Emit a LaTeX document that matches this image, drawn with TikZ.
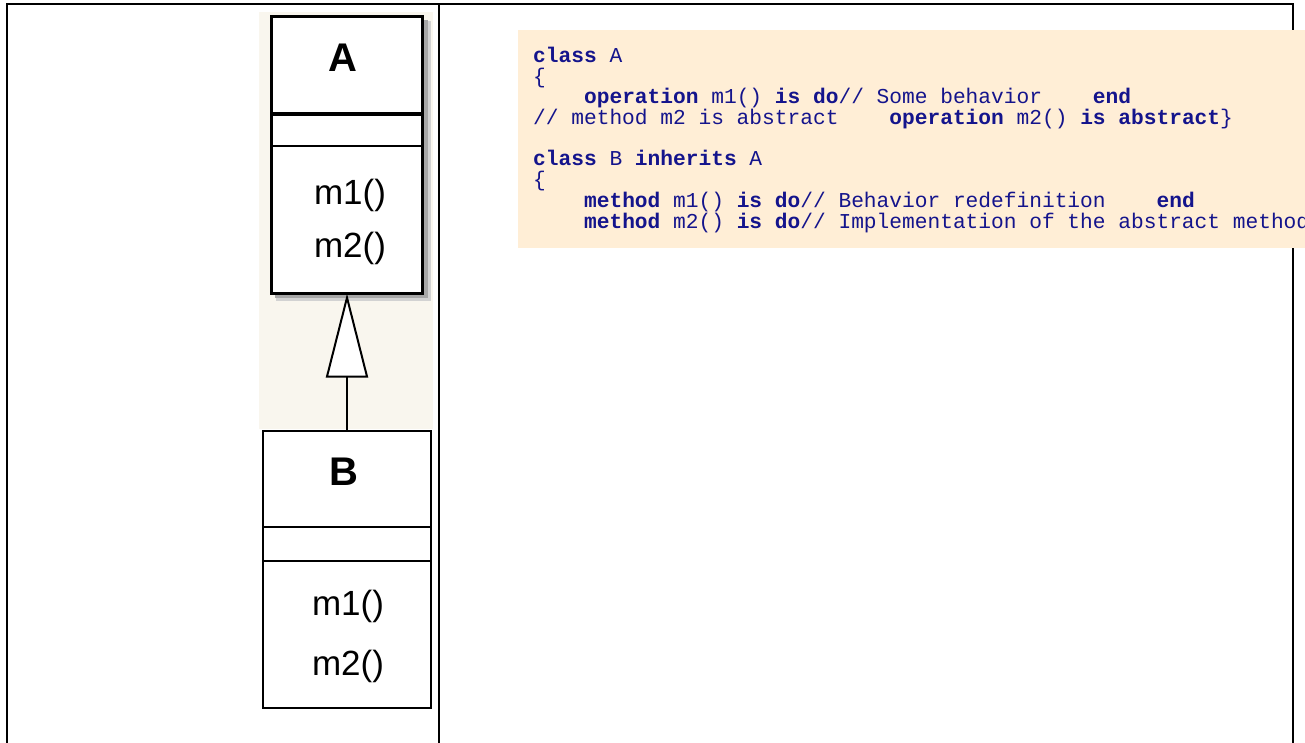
\documentclass[tikz,border=0pt]{standalone}
\usepackage{fontspec}
\setmainfont{Liberation Sans}
\setmonofont{Liberation Mono}
\usetikzlibrary{arrows.meta,calc}
\definecolor{codeblue}{RGB}{20,20,140}
\definecolor{codebg}{RGB}{255,238,214}
\definecolor{diagbg}{RGB}{249,246,238}
\newcommand\kw[1]{\textbf{#1}}
\begin{document}
\begin{tikzpicture}[x=1pt,y=-1pt,
  frameline/.style={line width=2.3pt, black},
  umlbox/.style={draw, fill=white, outer sep=0pt, inner sep=0pt},
  umltitle/.style={inner sep=0pt, font=\fontsize{40}{40}\selectfont\bfseries},
  umlop/.style={inner sep=0pt, font=\fontsize{35}{35}\selectfont},
  code/.style={anchor=base west, inner sep=0pt, text=codeblue, font=\ttfamily\fontsize{21.2}{21.2}\selectfont}]
\useasboundingbox (0,0) rectangle (1305,742);
\clip (0,0) rectangle (1305,742);
\fill[white] (0,0) rectangle (1305,742);
% table frame
\coordinate (ftl) at (7,4);
\coordinate (ftr) at (1293,4);
\coordinate (fbl) at (7,745);
\coordinate (fbr) at (1293,745);
\coordinate (fdt) at (439,4);
\coordinate (fdb) at (439,745);
\draw[frameline] (fbl) -- (ftl) -- (ftr) -- (fbr);
\draw[frameline] (fdt) -- (fdb);
% diagram background
\fill[diagbg] (259,12) rectangle (433,429);
% shadow of A
\fill[gray!35] (424,21) rectangle (431,301);
\fill[gray!35] (276,295) rectangle (431,301);
\fill[gray!70] (424,20) rectangle (428,298);
\fill[gray!70] (275,295) rectangle (428,298);
% class A
\node[umlbox, line width=3pt, minimum width=151pt, minimum height=277pt] (A) at (347,155) {};
\draw[line width=4pt] (A.west |- 0,114) -- (A.east |- 0,114);
\draw[line width=2.5pt] (A.west |- 0,146) -- (A.east |- 0,146);
\node[umltitle] (Aname) at (343,58) {A};
\node[umlop] (Am1) at (350,195) {m1()};
\node[umlop] (Am2) at (350,248) {m2()};
% class B
\node[umlbox, line width=2pt, minimum width=168pt, minimum height=277pt] (B) at (347,569.5) {};
\draw[line width=2pt] (B.west |- 0,527) -- (B.east |- 0,527);
\draw[line width=2pt] (B.west |- 0,561) -- (B.east |- 0,561);
\node[umltitle] (Bname) at (344,472) {B};
\node[umlop] (Bm1) at (348,606) {m1()};
\node[umlop] (Bm2) at (348,666) {m2()};
% generalization
\draw[line width=2pt, -{Triangle[length=84pt,width=42pt,fill=white]}] (B.north) -- (A.south);
% code box
\fill[codebg] (518,30) rectangle (1310,248);
\node[code] (c1) at (533,62) {\kw{class} A};
\node[code] (c2) at (533,83) {\{};
\node[code] (c3) at (533,103.5) {\ \ \ \ \kw{operation} m1() \kw{is} \kw{do}// Some behavior\ \ \ \ \kw{end}};
\node[code] (c4) at (533,124) {// method m2 is abstract\ \ \ \ \kw{operation} m2() \kw{is abstract}\}};
\node[code] (c5) at (533,165) {\kw{class} B \kw{inherits} A};
\node[code] (c6) at (533,186) {\{};
\node[code] (c7) at (533,207) {\ \ \ \ \kw{method} m1() \kw{is do}// Behavior redefinition\ \ \ \ \kw{end}};
\node[code] (c8) at (533,228) {\ \ \ \ \kw{method} m2() \kw{is do}// Implementation of the abstract method};
\end{tikzpicture}
\end{document}
